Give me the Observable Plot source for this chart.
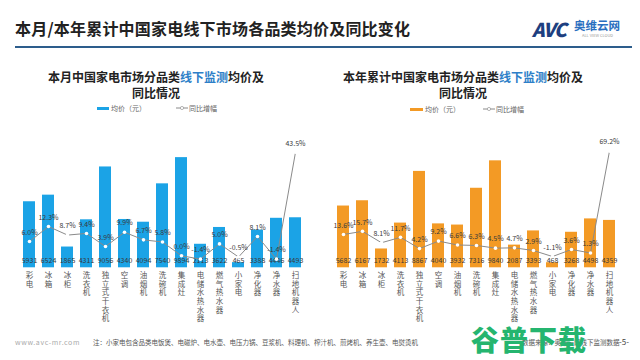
<!DOCTYPE html>
<html>
<head>
<meta charset="utf-8">
<script src="https://cdn.jsdelivr.net/npm/d3@7"></script>
<script src="https://cdn.jsdelivr.net/npm/@observablehq/plot@0.6"></script>
<style>
  html, body { margin: 0; padding: 0; background: #fff; }
  body { width: 640px; height: 360px; position: relative; overflow: hidden; font-family: "Noto Sans CJK SC", "Noto Sans", sans-serif; }
  .abs { position: absolute; white-space: nowrap; }
  #title { left: 15px; top: 16px; font-size: 16px; font-weight: bold; color: #222; letter-spacing: 0.2px; }
  #rule { left: 15px; top: 46px; width: 617px; height: 2px; background: #2d5d8c; }
  .sub { font-size: 12px; font-weight: bold; color: #222; text-align: center; line-height: 16px; }
  .sub .hl { color: #2e7fc8; }
  .leg { font-size: 7px; color: #666; display: flex; align-items: center; }
  .foot { font-size: 6.5px; color: #555; }
  #chartL, #chartR { position: absolute; top: 125px; }
</style>
</head>
<body>
<div id="title" class="abs">本月/本年累计中国家电线下市场各品类均价及同比变化</div>
<div id="rule" class="abs"></div>
<div class="abs" style="left:532px;top:15px;font-size:19px;font-weight:900;font-style:italic;color:#1d3f80;letter-spacing:-1px;">AVC</div>
<div class="abs" style="left:574px;top:17px;font-size:11.5px;font-weight:bold;color:#2a6fc0;">奥维云网</div>
<div class="abs" style="left:582px;top:32px;font-size:4px;color:#999;">ALL VIEW CLOUD</div>

<div class="abs sub" style="left:46px;top:69px;width:220px;">本月中国家电市场分品类<span class="hl">线下监测</span>均价及<br>同比情况</div>
<div class="abs sub" style="left:341px;top:69px;width:244px;">本年累计中国家电市场分品类<span class="hl">线下监测</span>均价及<br>同比情况</div>

<div class="abs leg" style="left:97px;top:103px;"><span style="display:inline-block;width:12px;height:3px;background:#1ba3e6;margin-right:2px;"></span>均价（元）</div>
<div class="abs leg" style="left:176px;top:103px;"><svg width="12" height="8"><line x1="0" y1="4" x2="12" y2="4" stroke="#8a8a8a" stroke-width="1"/><circle cx="6" cy="4" r="1.6" fill="#fff" stroke="#8a8a8a" stroke-width="0.6"/></svg><span style="margin-left:1px;">同比增幅</span></div>
<div class="abs leg" style="left:410px;top:104px;"><span style="display:inline-block;width:13px;height:3px;background:#f39a25;margin-right:2px;"></span>均价（元）</div>
<div class="abs leg" style="left:483px;top:104px;"><svg width="12" height="8"><line x1="0" y1="4" x2="12" y2="4" stroke="#8a8a8a" stroke-width="1"/><circle cx="6" cy="4" r="1.6" fill="#fff" stroke="#8a8a8a" stroke-width="0.6"/></svg><span style="margin-left:1px;">同比增幅</span></div>

<div id="chartL"></div>
<div id="chartR"></div>

<div class="abs foot" style="left:15px;top:337px;color:#aaa;font-size:7px;letter-spacing:0.6px;">www.avc-mr.com</div>
<div class="abs foot" style="left:93px;top:337px;">注：小家电包含品类电饭煲、电磁炉、电水壶、电压力锅、豆浆机、料理机、榨汁机、煎烤机、养生壶、电熨烫机</div>
<div class="abs foot" style="left:522px;top:337px;">数据来源：奥维云网线下监测数据</div>
<div class="abs" style="left:471px;top:325px;font-size:28px;font-weight:900;color:#25b56f;letter-spacing:1px;line-height:28px;">谷普下载</div>
<div class="abs" style="left:619px;top:336px;font-size:8px;color:#444;">-5-</div>

<script>
const categories = ["彩电","冰箱","冰柜","洗衣机","独立式干衣机","空调","油烟机","洗碗机","集成灶","电储水热水器","燃气热水器","小家电","净化器","净水器","扫地机器人"];
const monthPrice = [5931,6524,1865,4311,9056,4340,4094,7540,9894,2113,3622,465,3388,4446,4493];
const monthYoY = [6.0,12.3,8.7,9.4,3.9,9.9,6.7,5.8,0.0,-1.4,5.0,-0.5,8.1,-1.4,43.5];
const ytdPrice = [5682,6167,1732,4113,8867,4040,3932,7316,9840,2087,3393,468,3268,4498,4359];
const ytdYoY = [13.6,15.7,8.1,11.7,4.2,9.2,6.6,6.3,4.5,4.7,2.9,-1.1,3.6,1.3,69.2];

function chart({prices, yoy, color, yMax, pctZero, pctUnit, marginLeft, marginRight}) {
  // secondary axis for YoY mapped linearly onto the price scale
  const rows = categories.map((c, i) => ({
    cat: c, price: prices[i], yoy: yoy[i], yEq: pctZero + yoy[i] * pctUnit
  }));
  return Plot.plot({
    width: 320, height: 215,
    marginTop: 20, marginBottom: 72.7, marginLeft, marginRight,
    style: {fontFamily: "'Noto Sans CJK SC', 'Noto Sans', sans-serif", background: "transparent", overflow: "visible"},
    x: {domain: categories, padding: 0.35, label: null},
    y: {domain: [0, yMax], axis: null},
    marks: [
      Plot.barY(rows, {x: "cat", y: "price", fill: color}),
      Plot.axisX({tickSize: 0, tickPadding: 4, fontSize: 7.5, lineHeight: 1.16, fill: "#555", label: null,
        tickFormat: d => [...d].join("\n")}),
      Plot.text(rows, {x: "cat", y: 0, text: d => String(d.price), dy: -7, fontSize: 7, fill: "#3a3a3a"}),
      Plot.line(rows, {x: "cat", y: "yEq", stroke: "#8a8a8a", strokeWidth: 1}),
      Plot.dot(rows, {x: "cat", y: "yEq", r: 1.8, fill: "#fff"}),
      Plot.text(rows, {x: "cat", y: "yEq", text: d => d.yoy.toFixed(1) + "%", dy: -9, fontSize: 7, fill: "#3a3a3a"})
    ]
  });
}

document.getElementById("chartL").appendChild(chart({
  prices: monthPrice, yoy: monthYoY, color: "#1ba3e6",
  yMax: 10983, pctZero: 1078, pctUnit: 213.7, marginLeft: 16, marginRight: 11.6
}));
const r = document.getElementById("chartR");
r.style.left = "320px";
r.appendChild(chart({
  prices: ytdPrice, yoy: ytdYoY, color: "#f39a25",
  yMax: 11250, pctZero: 1187, pctUnit: 138, marginLeft: 10, marginRight: 17.6
}));
</script>
</body>
</html>
